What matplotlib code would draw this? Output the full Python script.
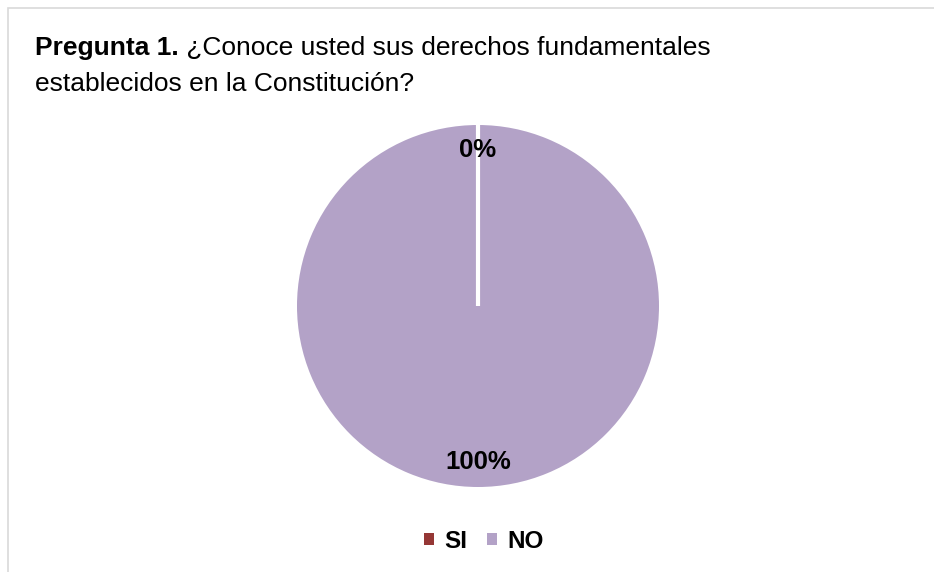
"""Pie chart: Pregunta 1, conocimiento de derechos fundamentales."""
import matplotlib.pyplot as plt
from matplotlib.patches import Patch, Rectangle

plt.rcParams["font.family"] = ["Liberation Sans", "DejaVu Sans"]

categories = ["SI", "NO"]
values = [0, 100]
colors = ["#953735", "#B3A2C7"]

W, H = 934, 572
fig = plt.figure(figsize=(W / 100, H / 100), dpi=100)

# Outer chart frame (extends past right/bottom edges as in the reference).
fig.patches.append(
    Rectangle((8 / W, -0.1), 1.2, 1 - 8 / H + 0.1, transform=fig.transFigure,
              facecolor="none", edgecolor="#D9D9D9", linewidth=1.2)
)

ax = fig.add_axes([297 / W, (H - 487) / H, 362 / W, 362 / H])

# Title: bold lead followed by regular text.
lead = fig.text(35 / W, 1 - 48 / H, "Pregunta 1.", fontsize=19, fontweight="bold",
                va="center", ha="left")
ax.annotate(" ¿Conoce usted sus derechos fundamentales", xy=(1, 0.5),
            xycoords=lead, va="center", ha="left", fontsize=19,
            annotation_clip=False)
fig.text(35 / W, 1 - 84 / H, "establecidos en la Constitución?", fontsize=19,
         va="center", ha="left")

wedges, texts, autotexts = ax.pie(
    values, colors=colors, startangle=90, counterclock=False,
    autopct="%1.0f%%", pctdistance=0.86,
    wedgeprops=dict(linewidth=0),
    textprops=dict(fontsize=18.5, fontweight="bold", color="black"),
)
# Zero-size slice shows only as a white separator line.
wedges[0].set_edgecolor("white")
wedges[0].set_linewidth(3)
wedges[0].set_zorder(3)
for t in autotexts:
    t.set_zorder(4)
ax.set_xlim(-1, 1)
ax.set_ylim(-1, 1)
ax.set_aspect("equal")

handles = [Patch(facecolor=c, edgecolor="none") for c in colors]
fig.legend(handles, categories, loc="center", bbox_to_anchor=(484 / W, 1 - 541 / H),
           ncol=2, frameon=False, handlelength=0.4, handleheight=0.4,
           handletextpad=0.45, columnspacing=0.8,
           prop=dict(size=17.5, weight="bold"))

fig.savefig("out.png", dpi=100)
